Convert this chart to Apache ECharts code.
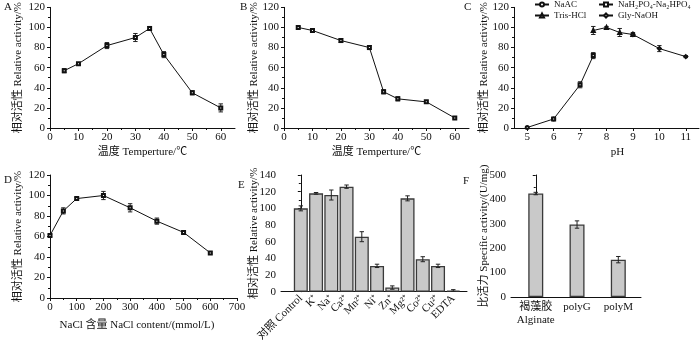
<!DOCTYPE html>
<html><head><meta charset="utf-8">
<script src="https://cdn.jsdelivr.net/npm/echarts@6/dist/echarts.min.js"></script>
<style>html,body{margin:0;padding:0;background:#fff}#c{width:700px;height:344px}</style>
</head><body><div id="c"></div>
<script>
// Panel A: temperature optimum
const tempA = [5, 10, 20, 30, 35, 40, 50, 60];
const actA = [57, 64, 82, 90, 99, 73, 35, 20];
const errA = [2, 1, 3, 4, 2, 3, 2, 4];
// Panel B: thermal stability
const tempB = [5, 10, 20, 30, 35, 40, 50, 60];
const actB = [100, 97, 87, 80, 36, 29, 26, 10];
const errB = [1, 1, 2, 2, 2, 2, 1, 1];
// Panel C: pH
const bufferNames = ['NaAC', 'NaH\u2082PO\u2084-Na\u2082HPO\u2084', 'Tris-HCl', 'Gly-NaOH'];
const phNaAC = [5, 6];          const actNaAC = [0.5, 9];        const errNaAC = [0.5, 1];
const phPhos = [6, 7, 7.5];     const actPhos = [9, 43, 72];     const errPhos = [1, 3, 3];
const phTris = [7.5, 8, 8.5, 9]; const actTris = [97, 100, 95, 93]; const errTris = [4, 1, 4, 1];
const phGly = [9, 10, 11];      const actGly = [93, 79, 71];     const errGly = [2, 3, 1];
// Panel D: NaCl
const nacl = [0, 50, 100, 200, 300, 400, 500, 600];
const actD = [61, 85, 97, 100, 88, 75, 64, 44];
const errD = [1, 3, 1, 4, 4, 3, 1, 1];
// Panel E: metal ions
const ionLabels = ['对照 Control', 'K\u207A', 'Na\u207A', 'Ca\u00B2\u207A', 'Mn\u00B2\u207A', 'Ni\u207A', 'Zn\u207A', 'Mg\u00B2\u207A', 'Co\u00B2\u207A', 'Cu\u00B2\u207A', 'EDTA'];
const actE = [100, 118, 116, 126, 66, 31, 5, 112, 39, 31, 1.5];
const errE = [3, 1, 6, 2, 6, 2, 2, 3, 3, 2, 1];
// Panel F: substrate specificity
const substrates = ['褐藻胶\nAlginate', 'polyG', 'polyM'];
const specF = [424, 297, 153];
const errF = [5, 15, 13];
const ticksF = [0, 100, 200, 300, 400, 500];
const topTickF = 500;

const FONT = "'Liberation Serif','Times New Roman','Noto Sans CJK SC',serif";
const BLK = '#111';

function zip3(xs, ys, es) { return xs.map((x, i) => [x, ys[i], es[i]]); }
function pairs(xs, ys) { return xs.map((x, i) => [x, ys[i]]); }

function errRender(params, api) {
  const x = api.value(0), y = api.value(1), e = api.value(2);
  const t = api.coord([x, y + e]), b = api.coord([x, y - e]);
  const w = 2.2, st = { stroke: '#222', lineWidth: 1 };
  return { type: 'group', children: [
    { type: 'line', shape: { x1: t[0], y1: t[1], x2: b[0], y2: b[1] }, style: st },
    { type: 'line', shape: { x1: t[0] - w, y1: t[1], x2: t[0] + w, y2: t[1] }, style: st },
    { type: 'line', shape: { x1: b[0] - w, y1: b[1], x2: b[0] + w, y2: b[1] }, style: st }
  ] };
}

const grids = [
  { left: 50, top: 6, width: 185, height: 122 },
  { left: 284, top: 6, width: 185, height: 122 },
  { left: 514, top: 6, width: 185, height: 122 },
  { left: 50, top: 175, width: 187, height: 123 },
  { left: 281, top: 175, width: 186, height: 123 },
  { left: 511, top: 175, width: 130, height: 122 }
];

const axisBase = {
  nameMoveOverlap: false,
  axisLine: { show: true, lineStyle: { color: BLK, width: 1 } },
  axisTick: { show: true, inside: false, length: 3, lineStyle: { color: BLK } },
  minorTick: { show: true, splitNumber: 2, length: 2, lineStyle: { color: BLK } },
  splitLine: { show: false },
  axisLabel: { color: BLK, fontFamily: FONT, fontSize: 11, margin: 3, showMinLabel: true, showMaxLabel: true, hideOverlap: false },
  nameTextStyle: { color: BLK, fontFamily: FONT, fontSize: 11 }
};
function xa(gi, o) { return Object.assign({ type: 'value', gridIndex: gi, position: 'bottom', offset: 0 }, JSON.parse(JSON.stringify(axisBase)), o); }
function ya(gi, o) {
  const a = Object.assign({ type: 'value', gridIndex: gi, nameLocation: 'middle' }, JSON.parse(JSON.stringify(axisBase)), o);
  a.axisLabel.margin = 5;
  return a;
}
const yName = '相对活性 Relative activity/%';
const lbl = (extra) => Object.assign({ color: BLK, fontFamily: FONT, fontSize: 11, margin: 4, showMinLabel: true, showMaxLabel: true, hideOverlap: false }, extra);
const ionIdx = ionLabels.map((_, i) => i);

const xAxis = [
  xa(0, { min: 0, max: 65, interval: 10, name: '温度 Temperture/℃', nameLocation: 'middle', nameGap: 19,
    axisLabel: lbl({ customValues: [0,10,20,30,40,50,60] }),
    axisTick: { show: true, length: 3, lineStyle: { color: BLK }, customValues: [0,10,20,30,40,50,60] } }),
  xa(1, { min: 0, max: 65, interval: 10, name: '温度 Temperture/℃', nameLocation: 'middle', nameGap: 19,
    axisLabel: lbl({ customValues: [0,10,20,30,40,50,60] }),
    axisTick: { show: true, length: 3, lineStyle: { color: BLK }, customValues: [0,10,20,30,40,50,60] } }),
  xa(2, { min: 4.5, max: 11.5, name: 'pH', nameLocation: 'middle', nameGap: 19,
    nameTextStyle: { color: BLK, fontFamily: FONT, fontSize: 11, padding: [0, 0, 0, 22] },
    minorTick: { show: false },
    axisLabel: lbl({ customValues: [5,6,7,8,9,10,11] }),
    axisTick: { show: true, length: 3, lineStyle: { color: BLK }, customValues: [5,6,7,8,9,10,11] } }),
  xa(3, { min: 0, max: 700, interval: 100, name: 'NaCl 含量 NaCl content/(mmol/L)', nameLocation: 'middle', nameGap: 22,
    axisLabel: lbl({}),
    nameTextStyle: { color: BLK, fontFamily: FONT, fontSize: 11, padding: [0, 13, 0, 0] } }),
  // E: even-index labels
  xa(4, { min: -1.3, max: 10.9, minorTick: { show: false },
    axisTick: { show: false },
    axisLabel: lbl({ margin: 5, rotate: 45,
      customValues: ionIdx.filter(i => i % 2 === 0), formatter: v => ionLabels[Math.round(v)] }) }),
  xa(5, { min: -0.6, max: 2.55, minorTick: { show: false },
    axisTick: { show: false },
    axisLabel: lbl({ lineHeight: 13,
      customValues: substrates.map((_, i) => i), formatter: v => substrates[Math.round(v)] }) }),
  // E: odd-index labels (same scale, same place)
  xa(4, { min: -1.3, max: 10.9, minorTick: { show: false },
    axisLine: { show: false }, axisTick: { show: false },
    axisLabel: lbl({ margin: 5, rotate: 45,
      customValues: ionIdx.filter(i => i % 2 === 1), formatter: v => ionLabels[Math.round(v)] }) })
];
const yAxis = [
  ya(0, { min: 0, max: 120, interval: 20, name: yName, nameGap: 26 }),
  ya(1, { min: 0, max: 120, interval: 20, name: yName, nameGap: 24 }),
  ya(2, { min: 0, max: 120, interval: 20, name: yName, nameGap: 24 }),
  ya(3, { min: 0, max: 120, interval: 20, name: yName, nameGap: 26 }),
  ya(4, { min: 0, max: 140, interval: 20, name: yName, nameGap: 21 }),
  ya(5, { min: 0, max: 500, interval: 100, name: '比活力 Specific activity/(U/mg)', nameGap: 21,
    axisLabel: lbl({ margin: 5, customValues: ticksF,
      formatter: v => (Math.round(v) === topTickF ? '' : String(Math.round(v))) }) })
];

function lineS(gi, name, xs, ys, sym) {
  return { type: 'line', name: name, xAxisIndex: gi, yAxisIndex: gi, data: pairs(xs, ys),
    symbol: sym || 'emptyRect', symbolSize: 3, showSymbol: true,
    lineStyle: { color: BLK, width: 1 }, itemStyle: { color: BLK, borderColor: BLK, borderWidth: 0.8 } };
}
function errS(gi, xs, ys, es) {
  return { type: 'custom', xAxisIndex: gi, yAxisIndex: gi, renderItem: errRender,
    data: zip3(xs, ys, es), encode: { x: 0, y: 1 }, z: 3, silent: true };
}
function barS(gi, ys, w) {
  return { type: 'bar', xAxisIndex: gi, yAxisIndex: gi, data: ys.map((v, i) => [i, v]), barWidth: w,
    itemStyle: { color: '#c9c9c9', borderColor: '#3a3a3a', borderWidth: 1.3 } };
}

const series = [
  lineS(0, 'A', tempA, actA), errS(0, tempA, actA, errA),
  lineS(1, 'B', tempB, actB), errS(1, tempB, actB, errB),
  lineS(2, bufferNames[0], phNaAC, actNaAC, 'emptyCircle'), errS(2, phNaAC, actNaAC, errNaAC),
  lineS(2, bufferNames[1], phPhos, actPhos, 'emptyRect'), errS(2, phPhos, actPhos, errPhos),
  lineS(2, bufferNames[2], phTris, actTris, 'emptyTriangle'), errS(2, phTris, actTris, errTris),
  lineS(2, bufferNames[3], phGly, actGly, 'emptyDiamond'), errS(2, phGly, actGly, errGly),
  lineS(3, 'D', nacl, actD), errS(3, nacl, actD, errD),
  barS(4, actE, 14), errS(4, ionIdx, actE, errE),
  barS(5, specF, 15), errS(5, substrates.map((_, i) => i), specF, errF)
];

const legPos = [[534, 0], [598, 0], [534, 11], [598, 11]];
const legend = bufferNames.map((n, i) => ({
  data: [n], left: legPos[i][0], top: legPos[i][1], padding: 0, itemWidth: 14, itemHeight: 5, itemGap: 4,
  textStyle: { color: BLK, fontFamily: FONT, fontSize: 9 }, selectedMode: false
}));

const letters = [['A', 4, 2], ['B', 240, 2], ['C', 464, 2], ['D', 4, 175], ['E', 238, 180], ['F', 463, 176]];
const letterGraphics = letters.map(l => ({ type: 'text', left: l[1], top: l[2],
  style: { text: l[0], fontFamily: FONT, fontSize: 11, fill: BLK } }));

const chart = echarts.init(document.getElementById('c'), null, { renderer: 'canvas' });
chart.setOption({ animation: false, backgroundColor: '#fff', grid: grids, xAxis, yAxis, series, legend, graphic: letterGraphics });

// top tick label of panel F, placed through the axis scale
const pTop = chart.convertToPixel({ gridIndex: 5 }, [-0.6, topTickF]);
chart.setOption({ graphic: letterGraphics.concat([{ type: 'text', x: pTop[0] - 5, y: pTop[1], z: 100,
  style: { text: String(topTickF), fontFamily: FONT, fontSize: 11, fill: BLK, align: 'right', verticalAlign: 'middle' } }]) });
</script></body></html>
